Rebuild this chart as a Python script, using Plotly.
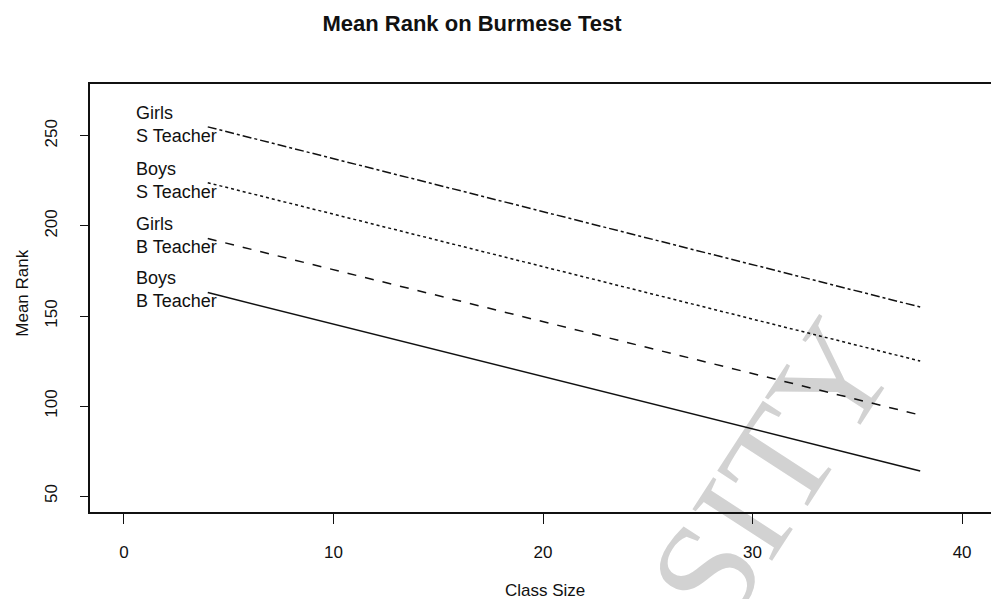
import plotly.graph_objects as go

# Class size range over which each fitted line is drawn
class_size = [4, 38]

# Mean rank at the two ends of each line
girls_s_teacher = [255, 155]
boys_s_teacher = [224, 125]
girls_b_teacher = [193, 95]
boys_b_teacher = [163, 64]

series_labels = ["Girls<br>S Teacher", "Boys<br>S Teacher",
                 "Girls<br>B Teacher", "Boys<br>B Teacher"]
series_values = [girls_s_teacher, boys_s_teacher, girls_b_teacher, boys_b_teacher]
series_dash = ["dashdot", "dot", "dash", "solid"]

x_ticks = [0, 10, 20, 30, 40]
y_ticks = [50, 100, 150, 200, 250]

FONT = "Liberation Sans, Arial, sans-serif"
INK = "#111111"

fig = go.Figure()
for label, vals, dash in zip(series_labels, series_values, series_dash):
    fig.add_trace(go.Scatter(
        x=class_size, y=vals, mode="lines",
        line=dict(color=INK, width=1.5, dash=dash),
        name=label.replace("<br>", " "), hoverinfo="skip",
    ))
    fig.add_annotation(
        x=0.5, y=vals[0] + 1.5, xref="x", yref="y",
        text=label, showarrow=False, xanchor="left", yanchor="middle",
        align="left", font=dict(family=FONT, size=18, color=INK),
    )

# axis titles
fig.add_annotation(
    x=0.505, y=0, xref="paper", yref="paper", yshift=-78,
    text="Class Size", showarrow=False, xanchor="center", yanchor="middle",
    font=dict(family=FONT, size=17, color=INK),
)
fig.add_annotation(
    x=0, y=0.51, xref="paper", yref="paper", xshift=-67,
    text="Mean Rank", showarrow=False, xanchor="center", yanchor="middle",
    textangle=-90, font=dict(family=FONT, size=17, color=INK),
)

# faint watermark lettering behind the lines
fig.add_shape(
    type="rect", xref="paper", yref="paper",
    x0=0.741, x1=0.743, y0=0.115, y1=0.117,
    line=dict(width=0), layer="below",
    label=dict(text="SITY", textangle=-57, textposition="middle center",
               font=dict(family="Liberation Serif, Times New Roman, serif",
                         size=145, color="#d2d2d2")),
)

fig.update_layout(
    width=991, height=599,
    margin=dict(l=90, r=0, t=84, b=87),
    paper_bgcolor="white", plot_bgcolor="white",
    showlegend=False,
    title=dict(text="<b>Mean Rank on Burmese Test</b>",
               x=472 / 991, xref="container", xanchor="center",
               y=1 - 23 / 599, yref="container", yanchor="middle",
               font=dict(family=FONT, size=22, color=INK)),
)
# top and bottom frame lines; the right side of the frame runs off the page
fig.update_xaxes(
    range=[-1.62, 41.38], tickvals=x_ticks, ticks="outside", ticklen=10,
    tickwidth=1, tickcolor=INK, showgrid=False, zeroline=False,
    showline=True, linecolor=INK, linewidth=1.6, mirror=True,
    tickfont=dict(family=FONT, size=17, color=INK), ticklabelstandoff=14,
)
fig.update_yaxes(
    range=[41.2, 278.8], tickvals=y_ticks, ticks="outside", ticklen=8,
    tickwidth=1, tickcolor=INK, showgrid=False, zeroline=False,
    showline=True, linecolor=INK, linewidth=1.6, mirror=False,
    tickangle=-90, tickfont=dict(family=FONT, size=17, color=INK),
    ticklabelstandoff=16,
)

fig.write_html("out.html")
